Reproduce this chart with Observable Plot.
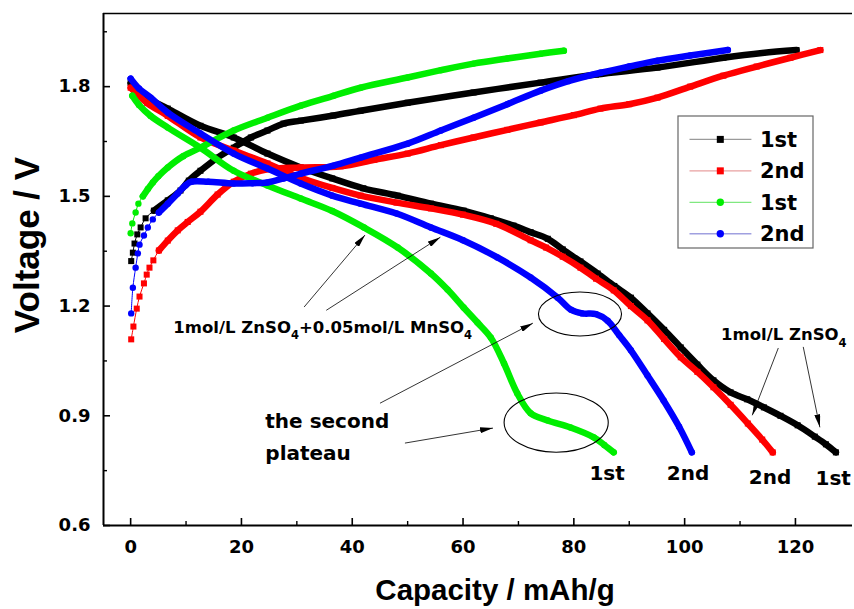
<!DOCTYPE html>
<html><head><meta charset="utf-8">
<script src="https://cdn.jsdelivr.net/npm/d3@7"></script>
<script src="https://cdn.jsdelivr.net/npm/@observablehq/plot@0.6"></script>
<style>
html,body{margin:0;padding:0;background:#fff;}
#chart svg{display:block;}
</style></head><body><div id="chart"></div>
<script>
// ---------- axis settings ----------
const xDomain = [-4.9, 130.3];
const yDomain = [0.6, 2.0];
const xMajor = [0, 20, 40, 60, 80, 100, 120];
const xMinor = [10, 30, 50, 70, 90, 110];
const yMajor = [0.6, 0.9, 1.2, 1.5, 1.8];
const yMinor = [0.75, 1.05, 1.35, 1.65, 1.95];
const xTitle = "Capacity / mAh/g";
const yTitle = "Voltage / V";

// ---------- series (capacity mAh/g, voltage V) ----------
const seriesKeys = ["zn1", "zn2", "mn1", "mn2"];
const seriesNames = ["1st", "2nd", "1st", "2nd"];

const zn1Discharge = [[0,1.81],[3,1.77],[6.7,1.74],[12.6,1.693],[18.6,1.661],[24.7,1.617],[30.7,1.579],[36.4,1.549],[42,1.522],[48.2,1.502],[54.2,1.48],[60.1,1.461],[65,1.44],[69.1,1.42],[72.2,1.402],[75.3,1.384],[78,1.355],[81.2,1.322],[84.3,1.289],[87.3,1.255],[90.3,1.223],[93.3,1.18],[96.3,1.135],[99.3,1.087],[102.3,1.04],[105.2,0.997],[108.3,0.964],[111.3,0.945],[114.3,0.923],[117.3,0.9],[120.4,0.874],[123.5,0.843],[125.5,0.822],[127.3,0.80]];
const zn1Charge = [[0.1,1.323],[0.4,1.346],[0.7,1.371],[1.2,1.396],[1.8,1.415],[2.7,1.44],[4.2,1.461],[6.7,1.489],[9,1.516],[10.5,1.543],[12.6,1.57],[15.7,1.606],[18.6,1.633],[21.7,1.661],[24.7,1.68],[27.6,1.699],[30.7,1.707],[36.6,1.721],[41.5,1.734],[50,1.756],[61.9,1.784],[74,1.811],[84,1.833],[95.1,1.852],[107,1.879],[114,1.892],[120.2,1.90]];

const zn2Discharge = [[0,1.797],[3,1.755],[6.7,1.72],[12.6,1.661],[18.6,1.625],[24.7,1.59],[30.7,1.551],[36.4,1.523],[41.5,1.502],[48,1.483],[54.2,1.467],[60,1.45],[66,1.425],[72.2,1.38],[75,1.36],[78,1.335],[81.2,1.305],[84,1.275],[87.2,1.243],[90.3,1.2],[93.3,1.161],[96.3,1.11],[99.3,1.06],[102.3,1.02],[105.2,0.978],[108.3,0.93],[111.4,0.879],[114,0.835],[115.9,0.80]];
const zn2Charge = [[0.1,1.109],[0.5,1.144],[1.1,1.193],[1.6,1.226],[2.4,1.262],[2.9,1.286],[3.4,1.305],[4.1,1.325],[5.1,1.352],[6.7,1.379],[8.5,1.407],[10.3,1.43],[12.6,1.458],[15.7,1.505],[18.6,1.54],[21.7,1.562],[24.7,1.574],[30.7,1.579],[37.9,1.582],[44,1.6],[50,1.617],[56,1.64],[61.9,1.661],[68,1.682],[74,1.702],[80,1.722],[84.8,1.74],[90,1.752],[95.1,1.77],[101,1.8],[107,1.83],[113,1.855],[119.1,1.879],[124.5,1.90]];

const mn1Discharge = [[0.3,1.775],[1.5,1.75],[3.6,1.72],[6.7,1.688],[12.6,1.633],[18.6,1.57],[24.7,1.53],[30.7,1.494],[36.4,1.46],[42.1,1.415],[48.2,1.36],[54.2,1.289],[57.2,1.245],[60.1,1.196],[62.6,1.155],[65,1.114],[67.4,1.043],[69.8,0.961],[72.2,0.907],[75.3,0.887],[79.4,0.868],[83.6,0.841],[85.5,0.82],[87.2,0.80]];
const mn1Charge = [[0,1.399],[0.3,1.426],[0.9,1.456],[1.4,1.48],[2.2,1.5],[3.1,1.52],[4,1.538],[5,1.555],[6.7,1.579],[9.5,1.61],[12.6,1.633],[18.6,1.68],[24.7,1.715],[30.7,1.748],[36.6,1.775],[41.5,1.797],[50,1.825],[56,1.845],[61.9,1.863],[68,1.877],[74,1.89],[78.2,1.898]];

const mn2Discharge = [[0,1.822],[1.5,1.795],[3.6,1.77],[6.7,1.729],[12.6,1.672],[18.6,1.617],[24.7,1.576],[30.7,1.535],[36.4,1.502],[41.5,1.48],[48,1.453],[54.2,1.415],[60,1.38],[66.2,1.333],[72.2,1.278],[77.1,1.223],[79.5,1.19],[81.5,1.18],[84,1.178],[86.1,1.16],[88.2,1.12],[90.3,1.079],[93.3,1.01],[96.2,0.942],[99,0.87],[101.3,0.80]];
const mn2Charge = [[0.1,1.18],[0.4,1.25],[0.9,1.305],[1.3,1.344],[1.6,1.368],[2.4,1.393],[3.1,1.415],[4,1.437],[5.1,1.456],[6.7,1.48],[8.5,1.508],[9.9,1.53],[11,1.54],[14,1.54],[18.6,1.535],[22,1.536],[24.7,1.538],[27.6,1.549],[30.7,1.562],[36.6,1.584],[41.5,1.606],[50,1.644],[56,1.68],[61.9,1.715],[68,1.752],[74,1.789],[79,1.815],[84.8,1.838],[90,1.855],[95.1,1.871],[101,1.885],[107.8,1.90]];

// ---------- annotation texts ----------
const mixLabel = ["1mol/L ZnSO", "4", "+0.05mol/L MnSO", "4"];
const znLabel = ["1mol/L ZnSO", "4"];
const plateauLabel = ["the second", "plateau"];
const endLabels = ["1st", "2nd", "2nd", "1st"];

// ---------- styles ----------
const colors = {zn1: "#000000", zn2: "#ff0000", mn1: "#00ee00", mn2: "#0000ff"};
const legendLineColors = {zn1: "#9a9a9a", zn2: "#e8a0a0", mn1: "#80e880", mn2: "#a0a0e0"};
const symbols = {zn1: "square", zn2: "square", mn1: "circle", mn2: "circle"};
const sparseUntil = {zn1: 4, zn2: 5, mn1: 2, mn2: 4.5};
const FONT = "'DejaVu Sans', 'Liberation Sans', Arial, sans-serif";
const TFONT = "'Liberation Sans', Arial, sans-serif";

const raw = {
  zn1: {charge: zn1Charge, discharge: zn1Discharge},
  zn2: {charge: zn2Charge, discharge: zn2Discharge},
  mn1: {charge: mn1Charge, discharge: mn1Discharge},
  mn2: {charge: mn2Charge, discharge: mn2Discharge}
};

const W = 854, H = 609, mL = 103, mR = 2, mT = 13, mB = 84;
const plotW = W - mL - mR, plotH = H - mT - mB;

const marks = [];
marks.push(Plot.ruleY([yDomain[1]], {stroke: "#000", strokeWidth: 1.5}));
marks.push(Plot.tickX(xMajor, {x: d => d, insetTop: plotH - 7, stroke: "#000", strokeWidth: 1.6}));
marks.push(Plot.tickX(xMinor, {x: d => d, insetTop: plotH - 4, stroke: "#000", strokeWidth: 1.4}));
marks.push(Plot.tickY(yMajor, {y: d => d, insetRight: plotW - 7, stroke: "#000", strokeWidth: 1.6}));
marks.push(Plot.tickY(yMinor, {y: d => d, insetRight: plotW - 4, stroke: "#000", strokeWidth: 1.4}));

for (const key of seriesKeys) {
  for (const branch of ["discharge", "charge"]) {
    const rows = raw[key][branch].map(([x, v]) => ({x, v}));
    const dense = branch === "charge" ? rows.filter(d => d.x >= sparseUntil[key]) : rows;
    marks.push(Plot.line(rows, {x: "x", y: "v", stroke: colors[key], strokeWidth: 1, curve: "catmull-rom"}));
    marks.push(Plot.line(dense, {x: "x", y: "v", stroke: colors[key], strokeWidth: 6.5, curve: "catmull-rom", strokeLinecap: "round"}));
    marks.push(Plot.dot(rows, {x: "x", y: "v", fill: colors[key], symbol: symbols[key], r: symbols[key] === "square" ? 3.4 : 3.2, stroke: "none"}));
  }
}

marks.push(Plot.ruleX([xDomain[0]], {stroke: "#000", strokeWidth: 2}));
marks.push(Plot.ruleY([yDomain[0]], {stroke: "#000", strokeWidth: 2}));
marks.push(Plot.axisX({ticks: xMajor, tickSize: 0, tickPadding: 15, fontSize: 18, fontWeight: "bold", label: null, tickFormat: d => String(d)}));
marks.push(Plot.axisY({ticks: yMajor, tickSize: 0, tickPadding: 13, fontSize: 18, fontWeight: "bold", label: null, tickFormat: d3.format(".1f")}));

const chart = Plot.plot({
  width: W, height: H,
  marginLeft: mL, marginRight: mR, marginTop: mT, marginBottom: mB,
  x: {domain: xDomain},
  y: {domain: yDomain},
  style: {fontFamily: FONT, color: "#000", background: "#fff"},
  marks
});
document.getElementById("chart").appendChild(chart);

// ---------- overlays positioned via the Plot scales ----------
const sx = chart.scale("x"), sy = chart.scale("y");
const X = v => sx.apply(v), Y = v => sy.apply(v);
const svg = d3.select(chart);
const defs = svg.append("defs");
defs.append("marker").attr("id", "ah").attr("viewBox", "0 0 13 6")
  .attr("refX", 13).attr("refY", 3).attr("markerWidth", 13).attr("markerHeight", 6)
  .attr("markerUnits", "userSpaceOnUse").attr("orient", "auto")
  .append("path").attr("d", "M0,0L13,3L0,6Z").attr("fill", "#000");

const g = svg.append("g").attr("text-anchor", "start");

// axis titles
g.append("text").attr("x", 495).attr("y", H - 9)
  .attr("text-anchor", "middle").attr("font-family", TFONT).attr("font-weight", "bold").attr("font-size", 29.5).text(xTitle);
g.append("text").attr("transform", `translate(39,${(Y(yDomain[0]) + Y(yDomain[1])) / 2 - 24}) rotate(-90)`)
  .attr("text-anchor", "middle").attr("font-family", TFONT).attr("font-weight", "bold").attr("font-size", 35).text(yTitle);

// ellipses around second plateaus
const ellipses = [{cx: 81.2, cy: 1.177, rx: 7.5, ry: 0.06}, {cx: 76.9, cy: 0.880, rx: 9.4, ry: 0.081}];
for (const e of ellipses) {
  g.append("ellipse").attr("cx", X(e.cx)).attr("cy", Y(e.cy))
    .attr("rx", X(e.cx + e.rx) - X(e.cx)).attr("ry", Y(e.cy - e.ry) - Y(e.cy))
    .attr("fill", "none").attr("stroke", "#000").attr("stroke-width", 1.1);
}

// arrows
const arrows = [
  [[31.4, 1.196], [42.4, 1.393]],
  [[35.4, 1.187], [56.0, 1.387]],
  [[45.1, 0.933], [72.7, 1.152]],
  [[49.6, 0.824], [65.5, 0.865]],
  [[117.0, 1.084], [112.3, 0.90]],
  [[121.5, 1.087], [124.5, 0.867]]
];
for (const [a, b] of arrows) {
  g.append("line").attr("x1", X(a[0])).attr("y1", Y(a[1])).attr("x2", X(b[0])).attr("y2", Y(b[1]))
    .attr("stroke", "#000").attr("stroke-width", 0.8).attr("marker-end", "url(#ah)");
}

function subText(parts, x, y, size, anchor) {
  const t = g.append("text").attr("x", x).attr("y", y).attr("font-family", FONT)
    .attr("font-weight", "bold").attr("font-size", size).attr("text-anchor", anchor || "start");
  parts.forEach((p, i) => {
    const sub = i % 2 === 1;
    t.append("tspan").attr("font-size", sub ? size * 0.7 : size)
      .attr("dy", sub ? size * 0.38 : (i > 0 ? -size * 0.38 : 0)).text(p);
  });
}
subText(mixLabel, X(7.8), Y(1.125), 16.5);
subText(znLabel, 721, Y(1.105), 16.5);

g.append("text").attr("x", X(24.4)).attr("y", Y(0.865)).attr("font-family", FONT).attr("font-weight", "bold").attr("font-size", 20).text(plateauLabel[0]);
g.append("text").attr("x", X(24.4)).attr("y", Y(0.777)).attr("font-family", FONT).attr("font-weight", "bold").attr("font-size", 20).text(plateauLabel[1]);

const endPos = [[86.1, 0.742], [100.7, 0.742], [115.5, 0.731], [126.9, 0.728]];
endLabels.forEach((s, i) => {
  g.append("text").attr("x", X(endPos[i][0])).attr("y", Y(endPos[i][1])).attr("dy", "0.36em")
    .attr("text-anchor", "middle").attr("font-family", FONT).attr("font-weight", "bold").attr("font-size", 20).text(s);
});

// legend
const lg = svg.append("g").attr("text-anchor", "start");
lg.append("rect").attr("x", 678).attr("y", 116).attr("width", 135).attr("height", 132)
  .attr("fill", "#fff").attr("stroke", "#666").attr("stroke-width", 1.2);
seriesKeys.forEach((key, i) => {
  const yy = 139.4 + i * 31.45;
  lg.append("line").attr("x1", 689.5).attr("x2", 751.4).attr("y1", yy).attr("y2", yy)
    .attr("stroke", legendLineColors[key]).attr("stroke-width", 1.3);
  if (symbols[key] === "square") {
    lg.append("rect").attr("x", 720.3 - 3.5).attr("y", yy - 3.5).attr("width", 7).attr("height", 7).attr("fill", colors[key]);
  } else {
    lg.append("circle").attr("cx", 720.3).attr("cy", yy).attr("r", 3.7).attr("fill", colors[key]);
  }
  lg.append("text").attr("x", 760).attr("y", yy).attr("dy", "0.36em").attr("text-anchor", "start").attr("font-family", FONT)
    .attr("font-weight", "bold").attr("font-size", 21).text(seriesNames[i]);
});
</script></body></html>
